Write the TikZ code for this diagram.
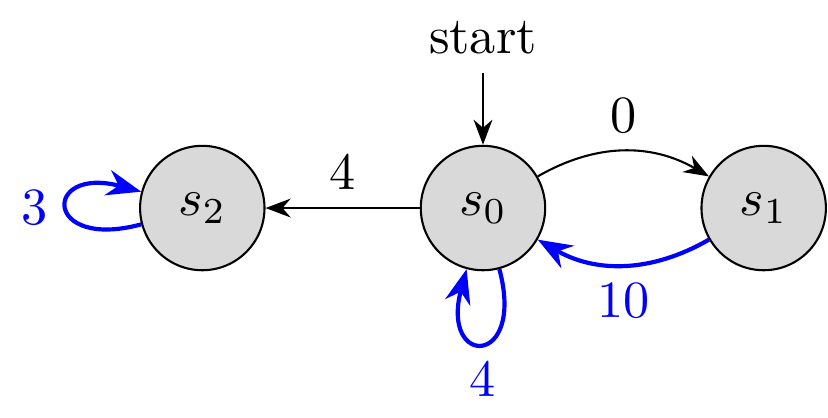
\documentclass[tikz,border=0pt]{standalone}
\usetikzlibrary{arrows.meta}
\begin{document}
\begin{tikzpicture}[>={Stealth},
  statenode/.style={circle,draw,line width=0.4pt,fill=black!15,minimum size=23.8pt,inner sep=0pt},
  blackedge/.style={->,line width=0.4pt},
  blueedge/.style={->,blue,line width=0.8pt},
  every loop/.style={min distance=5mm,looseness=8}]
\useasboundingbox (-92.4pt,-40pt) rectangle (66pt,39.8pt);
\node[statenode] (s0) at (0,0) {$s_0$};
\node[statenode] (s2) at (-53.7pt,0) {$s_2$};
\node[statenode] (s1) at (53.7pt,0) {$s_1$};
\node (start) at (0,32.5pt) {start};
\draw[blackedge] (start) -- (s0);
\draw[blackedge] (s0) to[bend left] node[above] {$0$} (s1);
\draw[blackedge] (s0) -- node[above] {$4$} (s2);
\draw[blueedge] (s1) to[bend left] node[below] {$10$} (s0);
\draw[blueedge] (s2) to[loop left] node[left] {$3$} (s2);
\draw[blueedge] (s0) to[loop below] node[below] {$4$} (s0);
\end{tikzpicture}
\end{document}
